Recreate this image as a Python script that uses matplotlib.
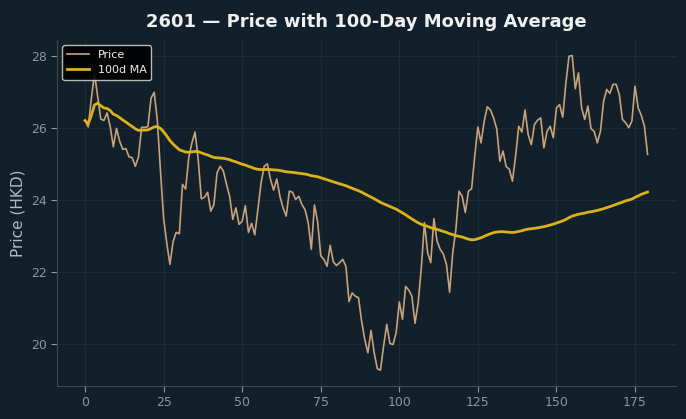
import numpy as np
import pandas as pd
import matplotlib
matplotlib.use("Agg")
import matplotlib.pyplot as plt

# daily closing prices (days 0..179)
price = [
    26.20, 26.02, 26.80, 27.50, 26.88, 26.24, 26.20, 26.41, 26.03, 25.47,
    25.98, 25.63, 25.40, 25.42, 25.19, 25.17, 24.93, 25.19, 26.01, 26.01,
    26.03, 26.82, 26.98, 26.20, 24.80, 23.48, 22.80, 22.21, 22.84, 23.10,
    23.06, 24.43, 24.30, 25.17, 25.58, 25.88, 25.12, 24.03, 24.07, 24.21,
    23.69, 23.87, 24.75, 24.93, 24.80, 24.43, 24.10, 23.46, 23.78, 23.32,
    23.41, 23.84, 23.10, 23.35, 23.03, 23.73, 24.47, 24.93, 25.00, 24.57,
    24.27, 24.58, 24.10, 23.78, 23.55, 24.24, 24.21, 24.01, 24.10, 23.87,
    23.73, 23.37, 22.63, 23.86, 23.40, 22.45, 22.35, 22.16, 22.74, 22.28,
    22.18, 22.26, 22.35, 22.16, 21.18, 21.42, 21.33, 21.29, 20.64, 20.13,
    19.76, 20.38, 19.76, 19.32, 19.28, 19.95, 20.55, 20.02, 19.99, 20.32,
    21.17, 20.69, 21.60, 21.50, 21.33, 20.58, 21.15, 22.12, 23.37, 22.54,
    22.26, 23.48, 22.86, 22.63, 22.50, 22.21, 21.44, 22.54, 23.18, 24.24,
    24.10, 23.65, 24.24, 24.31, 25.21, 26.02, 25.58, 26.18, 26.58, 26.49,
    26.27, 25.97, 25.07, 25.35, 24.92, 24.85, 24.52, 25.21, 26.04, 25.88,
    26.49, 25.81, 25.53, 26.09, 26.21, 26.27, 25.44, 25.90, 26.04, 25.72,
    26.55, 26.64, 26.29, 27.24, 27.98, 28.00, 27.08, 27.52, 26.55, 26.23,
    26.60, 25.97, 25.90, 25.58, 25.90, 26.73, 27.06, 26.95, 27.20, 27.20,
    26.92, 26.23, 26.14, 26.00, 26.18, 27.15, 26.55, 26.34, 26.04, 25.26,
]
ma_window = 100

BG = "#11202a"
PRICE_COLOR = "#c9a27a"
MA_COLOR = "#dcb21c"
TICK_COLOR = "#8c979c"

s = pd.Series(price)
ma = s.rolling(ma_window, min_periods=1).mean()
days = np.arange(len(price))

fig = plt.figure(figsize=(6.86, 4.19), dpi=100, facecolor=BG)
ax = fig.add_axes([0.083, 0.079, 0.902, 0.826])
ax.set_facecolor(BG)

ax.plot(days, s, color=PRICE_COLOR, linewidth=1.2, label="Price", zorder=3)
ax.plot(days, ma, color=MA_COLOR, linewidth=2.0, label=f"{ma_window}d MA", zorder=4)

ax.set_title("2601 \u2014 Price with 100-Day Moving Average",
             color="#f0f0f0", fontsize=13, fontweight="bold", pad=9)
ax.set_ylabel("Price (HKD)", color="#b4bcc0", fontsize=11)

ax.set_xticks([0, 25, 50, 75, 100, 125, 150, 175])
ax.set_yticks([20, 22, 24, 26, 28])
ax.tick_params(colors=TICK_COLOR, labelsize=9, length=4)
ax.grid(True, color="#ffffff", alpha=0.05, linewidth=0.8)

for side in ("top", "right"):
    ax.spines[side].set_visible(False)
for side in ("left", "bottom"):
    ax.spines[side].set_color("#3d4a50")

leg = ax.legend(loc="upper left", fontsize=8, facecolor="#000000",
                edgecolor="#cccccc", framealpha=0.9)
for t in leg.get_texts():
    t.set_color("#eeeeee")

fig.savefig("out.png", dpi=100, facecolor=BG)
